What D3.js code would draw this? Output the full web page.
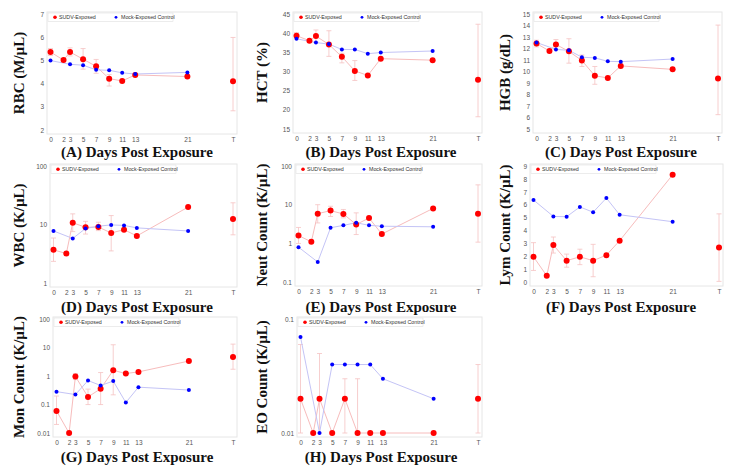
<!DOCTYPE html>
<html><head><meta charset="utf-8">
<script src="https://cdn.jsdelivr.net/npm/d3@7"></script>
<style>
body{margin:0;background:#fff;}
svg{display:block;}
</style></head>
<body>
<svg id="chart" width="733" height="469"></svg>
<script>
// ---- data ----
const sudvDays = [0,2,3,5,7,9,11,13,21,28];
const mockDays = [0,3,5,7,9,11,13,21];
const xTickValues = [0,2,3,5,7,9,11,13,21,28];
const xTickLabels = ["0","2","3","5","7","9","11","13","21","T"];
const seriesNames = ["SUDV-Exposed","Mock-Exposed Control"];

const panelLetters = ["A","B","C","D","E","F","G","H"];
const yLabels = ["RBC (M/µL)","HCT (%)","HGB (g/dL)","WBC (K/µL)","Neut Count (K/µL)","Lym Count (K/µL)","Mon Count (K/µL)","EO Count (K/µL)"];
const yTicks = [
  [2,3,4,5,6,7],
  [15,20,25,30,35,40,45],
  [5,6,7,8,9,10,11,12,13,14,15],
  [1,10,100],
  [0.1,1,10,100],
  [0,1,2,3,4,5,6,7,8,9],
  [0.01,0.1,1,10,100],
  [0.01,0.1]
];
const yIsLog = [false,false,false,true,true,false,true,true];

// SUDV-exposed means, upper and lower error limits (null = no bar)
const sudvRBC   = [5.37,5.02,5.37,5.06,4.75,4.22,4.12,4.38,4.31,4.11];
const sudvRBCHi = [5.52,null,5.55,5.52,5.05,4.40,null,null,null,6.0];
const sudvRBCLo = [5.22,null,5.20,4.63,4.45,3.90,null,null,null,2.83];
const mockRBC   = [5.0,4.84,4.8,4.6,4.58,4.47,4.42,4.49];

const sudvHCT   = [39.4,38.1,39.3,37.1,33.9,30.2,29.0,33.4,33.0,27.9];
const sudvHCTHi = [40.2,null,40.9,40.7,34.8,32.9,null,null,null,42.4];
const sudvHCTLo = [38.6,null,37.7,34.0,32.3,27.7,null,null,null,18.2];
const mockHCT   = [38.6,37.6,37.2,35.8,35.8,34.7,35.0,35.4];

const sudvHGB   = [12.45,11.8,12.37,11.77,10.97,9.64,9.45,10.5,10.2,9.4];
const sudvHGBHi = [12.74,null,12.8,12.87,11.45,10.45,null,null,null,14.06];
const sudvHGBLo = [12.16,null,11.94,10.74,10.45,8.9,null,null,null,6.25];
const mockHGB   = [12.54,11.94,11.86,11.26,11.2,10.9,10.87,11.1];

const sudvWBC   = [3.7,3.2,10.8,9.0,9.1,7.2,8.2,6.4,20,12.5];
const sudvWBCHi = [5.9,null,15.3,11.4,11.0,14.3,null,null,null,23.7];
const sudvWBCLo = [2.35,null,7.6,6.9,7.9,3.55,null,null,null,6.7];
const mockWBC   = [7.8,5.8,8.6,9.4,9.9,9.7,8.8,7.8];

const sudvNeut   = [1.6,1.1,5.9,7.1,5.8,3.1,4.55,1.75,8.1,5.9];
const sudvNeutHi = [2.6,null,10.1,9.2,7.6,6.2,null,null,null,33];
const sudvNeutLo = [1.0,null,3.4,5.0,4.6,1.7,null,null,null,1.08];
const mockNeut   = [0.8,0.33,2.55,2.94,3.45,2.94,2.8,2.7];

const sudvLym   = [1.96,0.48,2.88,1.66,1.96,1.66,2.09,3.21,8.34,2.68];
const sudvLymHi = [3.06,null,3.5,2.17,2.55,2.93,null,null,null,5.3];
const sudvLymLo = [0.9,null,2.25,1.15,1.35,0.41,null,null,null,0.05];
const mockLym   = [6.38,5.1,5.08,5.84,5.43,6.53,5.23,4.69];

const sudvMon   = [0.06,0.01,0.97,0.186,0.36,1.6,1.24,1.41,3.4,4.7];
const sudvMonHi = [0.2,null,1.24,0.35,1.34,12.7,null,null,null,13.4];
const sudvMonLo = [0.02,null,0.76,0.1,0.1,0.22,null,null,null,1.75];
const mockMon   = [0.285,0.225,0.7,0.47,0.67,0.118,0.41,0.325];

const sudvEO   = [0.02,0.01,0.02,0.01,0.02,0.01,0.01,0.01,0.01,0.02];
const sudvEOHi = [0.06,null,0.05,null,0.03,0.03,null,null,null,0.04];
const sudvEOLo = [0.01,null,0.01,null,0.01,0.01,null,null,null,0.01];
const mockEO   = [0.07,0.01,0.04,0.04,0.04,0.04,0.03,0.02];

const sudvAll = [sudvRBC,sudvHCT,sudvHGB,sudvWBC,sudvNeut,sudvLym,sudvMon,sudvEO];
const sudvHiAll = [sudvRBCHi,sudvHCTHi,sudvHGBHi,sudvWBCHi,sudvNeutHi,sudvLymHi,sudvMonHi,sudvEOHi];
const sudvLoAll = [sudvRBCLo,sudvHCTLo,sudvHGBLo,sudvWBCLo,sudvNeutLo,sudvLymLo,sudvMonLo,sudvEOLo];
const mockAll = [mockRBC,mockHCT,mockHGB,mockWBC,mockNeut,mockLym,mockMon,mockEO];

// ---- layout (positions only) ----
const frames = [
  [47,237,12,134],[293,482,12,133],[533,722,12,133],
  [50,237,164,287],[295,482,164,286],[530,723,164,286],
  [53,237,317,437],[297,482,317,437]
];
const titleX = [137,381,621];
const titleY = [157,312,462];
const ylabX = [19,262,505];

const RED = "#ff0000", BLUE = "#0000ff";
const RED_LINE = "#f7bcbc", BLUE_LINE = "#c4c4f6", ERR = "#f5c2c2";
const svg = d3.select("#chart");
const fmt = v => (v < 1 ? String(v) : d3.format("d")(v));

frames.forEach((f, i) => {
  const [x0,x1,y0,y1] = f;
  const col = i % 3, row = Math.floor(i / 3);
  const g = svg.append("g");
  const x = d3.scaleLinear().domain([0,28]).range([x0+3.5, x1-4]);
  const ticks = yTicks[i];
  const ymin = d3.min(ticks), ymax = d3.max(ticks);
  const y = (yIsLog[i] ? d3.scaleLog() : d3.scaleLinear()).domain([ymin,ymax]).range([y1-4, y0+2.3]);

  // frame
  g.append("rect").attr("x",x0).attr("y",y0).attr("width",x1-x0).attr("height",y1-y0)
    .attr("fill","none").attr("stroke","#e6e6e6").attr("stroke-width",1);

  // axes (labels only)
  const yAxis = d3.axisLeft(y).tickValues(ticks).tickFormat(fmt).tickSize(0).tickPadding(3);
  const ya = g.append("g").attr("transform",`translate(${x0},0)`).call(yAxis);
  const xAxis = d3.axisBottom(x).tickValues(xTickValues).tickFormat((d,k)=>xTickLabels[k]).tickSize(0).tickPadding(3);
  const xa = g.append("g").attr("transform",`translate(0,${y1})`).call(xAxis);
  [ya,xa].forEach(a=>{
    a.select(".domain").remove();
    a.selectAll("text").attr("fill","#555").style("font-family","'Liberation Sans',Arial,sans-serif").style("font-size","6.5px");
  });

  const sv = sudvAll[i], hi = sudvHiAll[i], lo = sudvLoAll[i], mv = mockAll[i];
  const sudvPts = sudvDays.map((d,k)=>({d, v: sv[k], hi: hi[k], lo: lo[k]}));
  const mockPts = mockDays.map((d,k)=>({d, v: mv[k]}));
  const line = d3.line().x(p=>x(p.d)).y(p=>y(p.v));

  // red line (days 0-21)
  g.append("path").datum(sudvPts.filter(p=>p.d<=21)).attr("d",line)
    .attr("fill","none").attr("stroke",RED_LINE).attr("stroke-width",1);
  // error bars
  const eb = sudvPts.filter(p=>p.hi!=null);
  const ebg = g.append("g").attr("stroke",ERR).attr("stroke-width",0.8);
  eb.forEach(p=>{
    ebg.append("line").attr("x1",x(p.d)).attr("x2",x(p.d)).attr("y1",y(p.hi)).attr("y2",y(p.lo));
    [p.hi,p.lo].forEach(v=>{
      ebg.append("line").attr("x1",x(p.d)-2.5).attr("x2",x(p.d)+2.5).attr("y1",y(v)).attr("y2",y(v));
    });
  });
  // blue line
  g.append("path").datum(mockPts).attr("d",line)
    .attr("fill","none").attr("stroke",BLUE_LINE).attr("stroke-width",1);
  // markers
  g.selectAll(".s").data(sudvPts).enter().append("circle")
    .attr("cx",p=>x(p.d)).attr("cy",p=>y(p.v)).attr("r",3).attr("fill",RED);
  g.selectAll(".m").data(mockPts).enter().append("circle")
    .attr("cx",p=>x(p.d)).attr("cy",p=>y(p.v)).attr("r",2).attr("fill",BLUE);

  // legend
  const lg = g.append("g").attr("transform",`translate(${x0+1},${y0+1})`);
  lg.append("rect").attr("width",125).attr("height",8.5).attr("fill","#fff").attr("stroke","#e0e0e0").attr("stroke-width",0.6);
  lg.append("circle").attr("cx",7).attr("cy",4.3).attr("r",1.8).attr("fill",RED);
  lg.append("text").attr("x",11).attr("y",6.2).text(seriesNames[0]);
  lg.append("circle").attr("cx",68).attr("cy",4.3).attr("r",1.4).attr("fill",BLUE);
  lg.append("text").attr("x",73).attr("y",6.2).text(seriesNames[1]);
  lg.selectAll("text").attr("fill","#333").style("font-family","'Liberation Sans',Arial,sans-serif").style("font-size","5.3px");

  // y label
  const cy = (y0+y1)/2;
  g.append("text").attr("transform",`translate(${ylabX[col]},${cy}) rotate(-90)`)
    .attr("text-anchor","middle").attr("dominant-baseline","central")
    .style("font-family","'Liberation Serif','Times New Roman',serif").style("font-weight","bold").style("font-size","15px")
    .attr("fill","#111").text(yLabels[i]);
  // x title
  g.append("text").attr("x",titleX[col]).attr("y",titleY[row]).attr("text-anchor","middle")
    .style("font-family","'Liberation Serif','Times New Roman',serif").style("font-weight","bold").style("font-size","15px")
    .attr("fill","#111").text(`(${panelLetters[i]}) Days Post Exposure`);
});
</script>
</body></html>
